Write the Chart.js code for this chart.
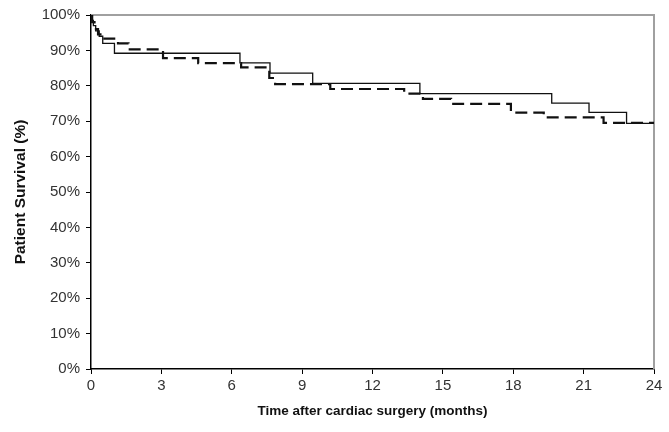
<!DOCTYPE html>
<html><head><meta charset="utf-8">
<script src="https://cdn.jsdelivr.net/npm/chart.js@4"></script>
<style>html,body{margin:0;padding:0;background:#fff}</style>
</head><body>
<canvas id="c" width="669" height="432"></canvas>
<script>
// Solid curve (Kaplan-Meier steps): time in months, survival in %
const solidTimes    = [0, 0.05, 0.1, 0.2, 0.35, 0.5, 1.0, 6.35, 7.63, 9.45, 14.02, 19.64, 21.23, 22.83, 24];
const solidSurvival = [100, 98.5, 97, 95.5, 94, 92, 89.2, 86.5, 83.6, 80.7, 77.8, 75.1, 72.5, 69.4, 69.4];
// Dashed curve
const dashedTimes    = [0, 0.05, 0.15, 0.3, 0.5, 1.15, 1.6, 3.07, 4.57, 6.4, 7.6, 7.85, 10.2, 13.35, 14.15, 15.35, 17.9, 19.3, 21.85, 24];
const dashedSurvival = [100, 98, 96, 94.5, 93.3, 92, 90.3, 87.8, 86.4, 85.2, 82.2, 80.5, 79.1, 77.8, 76.3, 74.9, 72.4, 71.1, 69.5, 69.5];
// Tick settings
const xTicks = [0, 3, 6, 9, 12, 15, 18, 21, 24];
const yTicks = [0, 10, 20, 30, 40, 50, 60, 70, 80, 90, 100];
const xTitle = 'Time after cardiac surgery (months)';
const yTitle = 'Patient Survival (%)';

const toPts = (ts, vs) => ts.map((t, i) => ({x: t, y: vs[i]}));

const frame = {
  id: 'frame',
  beforeDatasetsDraw(chart) {
    const {ctx, chartArea: a} = chart;
    ctx.save();
    ctx.strokeStyle = '#a0a0a0';
    ctx.lineWidth = 2;
    ctx.beginPath();
    ctx.moveTo(a.left, a.top);
    ctx.lineTo(a.right, a.top);
    ctx.lineTo(a.right, a.bottom);
    ctx.stroke();
    ctx.restore();
  }
};

const FF = 'Liberation Sans, Arial, sans-serif';

new Chart(document.getElementById('c'), {
  type: 'line',
  data: {
    datasets: [
      {data: toPts(dashedTimes, dashedSurvival), borderColor: '#111', borderWidth: 2.2, borderDash: [12, 6], stepped: true, pointRadius: 0, fill: false},
      {data: toPts(solidTimes, solidSurvival), borderColor: '#111', borderWidth: 1.3, stepped: true, pointRadius: 0, fill: false}
    ]
  },
  options: {
    responsive: false,
    animation: false,
    layout: {padding: {left: 0, right: 15, top: 14, bottom: 0}},
    plugins: {legend: {display: false}, tooltip: {enabled: false}},
    scales: {
      x: {
        type: 'linear', min: 0, max: 24,
        afterBuildTicks: s => { s.ticks = xTicks.map(v => ({value: v})); },
        afterFit: s => { s.height = 63; },
        grid: {drawOnChartArea: false, drawTicks: true, tickLength: 5, color: '#000', tickColor: '#000'},
        border: {display: true, color: '#000', width: 1.5},
        ticks: {color: '#333', font: {family: FF, size: 15}, padding: 3, maxRotation: 0},
        title: {display: true, text: xTitle, color: '#111', font: {family: FF, size: 13.5, weight: 'bold'}, padding: {top: 4, bottom: 13}}
      },
      y: {
        min: 0, max: 100,
        afterBuildTicks: s => { s.ticks = yTicks.map(v => ({value: v})); },
        afterFit: s => { s.width = 91; },
        grid: {drawOnChartArea: false, drawTicks: true, tickLength: 5, color: '#000', tickColor: '#000'},
        border: {display: true, color: '#000', width: 1.5},
        ticks: {color: '#333', font: {family: FF, size: 15}, padding: 6, callback: v => v + '%'},
        title: {display: true, text: yTitle, color: '#111', font: {family: FF, size: 15.5, weight: 'bold'}, padding: {top: 11, bottom: 0}}
      }
    }
  },
  plugins: [frame]
});
</script>
</body></html>
